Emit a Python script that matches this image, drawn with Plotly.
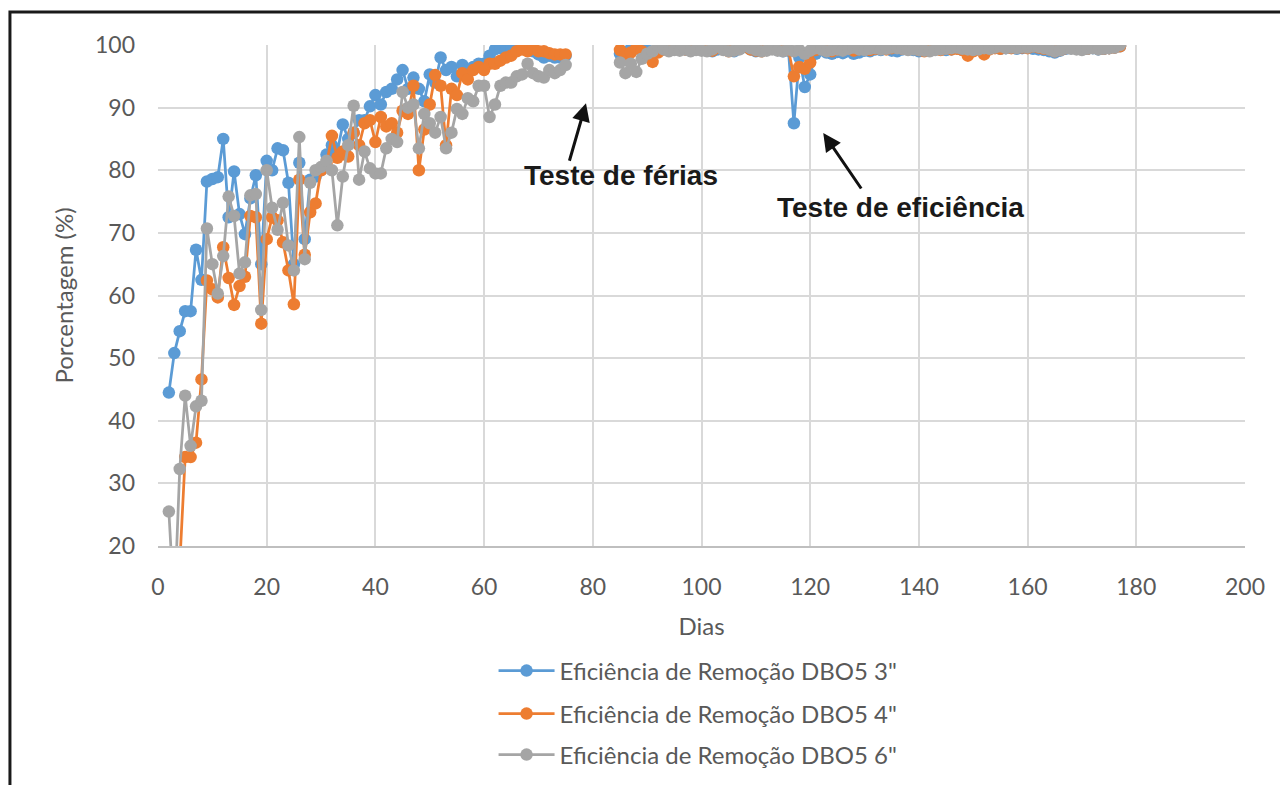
import plotly.graph_objects as go

# ---------------- data ----------------
days_p1 = list(range(2, 76))
days_p2 = list(range(85, 178))

dbo3_p1 = [44.5, 50.8, 54.3, 57.5, 57.5, 67.3, 62.5, 78.2, 78.6, 78.9, 85.0, 72.5, 79.8, 73.0,
           69.8, 75.5, 79.2, 65.0, 81.5, 80.0, 83.5, 83.2, 78.0, 65.0, 81.2, 69.0, 78.5, 79.0,
           80.0, 82.5, 84.0, 83.0, 87.3, 85.0, 86.0, 88.0, 88.0, 90.2, 92.0, 90.5, 92.5, 93.0,
           94.5, 96.0, 93.0, 94.8, 93.0, 91.0, 95.3, 94.0, 98.0, 96.0, 96.5, 95.0, 96.8, 96.0,
           96.5, 97.0, 97.0, 98.3, 99.3, 99.5, 99.0, 99.5, 99.5, 99.5, 99.3, 99.0, 98.5, 98.0,
           98.3, 98.0, 98.0, 98.3]
dbo4_p1 = [10.0, 8.0, 17.0, 34.2, 34.2, 36.5, 46.6, 62.4, 61.0, 59.7, 67.7, 62.8, 58.5, 61.5,
           63.0, 72.7, 72.5, 55.5, 69.0, 72.5, 72.0, 68.5, 64.0, 58.6, 78.5, 66.5, 73.3, 74.7,
           80.0, 81.0, 85.5, 82.0, 83.0, 82.2, 86.0, 84.0, 87.5, 88.0, 84.5, 88.5, 87.0, 87.5,
           86.0, 89.5, 89.0, 93.5, 80.0, 86.5, 90.5, 95.2, 93.5, 84.0, 93.0, 92.0, 95.5, 94.5,
           96.0, 96.5, 96.0, 97.0, 97.0, 97.5, 98.0, 98.3, 99.0, 99.3, 99.0, 99.5, 99.0, 99.0,
           98.7, 98.5, 98.5, 98.5]
dbo6_p1 = [25.5, 10.0, 32.3, 44.0, 36.0, 42.3, 43.2, 70.7, 65.0, 60.3, 66.3, 75.8, 72.7, 63.5,
           65.3, 76.0, 76.2, 57.7, 80.0, 74.0, 70.5, 74.8, 68.0, 64.0, 85.3, 65.8, 78.0, 80.0,
           80.5, 81.5, 80.0, 71.2, 79.0, 84.0, 90.3, 78.5, 83.0, 80.3, 79.5, 79.5, 83.5, 85.0,
           84.5, 92.5, 90.0, 90.5, 83.5, 89.0, 87.5, 86.0, 88.5, 83.5, 86.0, 89.8, 89.0, 91.5,
           91.0, 93.5, 93.5, 88.5, 90.5, 93.5, 94.0, 94.0, 95.0, 95.3, 97.0, 95.5, 95.0, 94.8,
           96.0, 95.5, 96.0, 96.8]

dbo3_p2 = [98.6, 98.9, 99.4, 99.7, 99.5, 99.2, 98.9, 99.3, 99.4, 99.2, 99.5, 99.6, 99.3, 99.1,
           99.4, 99.6, 99.2, 99.0, 99.3, 99.5, 99.2, 99.0, 99.4, 99.7, 99.3, 99.0, 99.2, 99.5,
           99.6, 99.2, 99.0, 99.1, 87.5, 98.0, 93.3, 95.3, 98.6, 99.2, 98.8, 98.6, 98.9, 98.7,
           99.0, 98.6, 98.8, 99.1, 99.0, 99.3, 99.2, 99.4, 99.1, 99.0, 99.3, 99.5, 99.2, 99.0,
           99.2, 99.1, 99.3, 99.4, 99.2, 99.3, 99.5, 99.2, 99.0, 99.3, 99.4, 99.2, 99.5, 99.6,
           99.4, 99.5, 99.6, 99.4, 99.5, 99.6, 99.4, 99.3, 99.2, 99.0, 98.8, 99.1, 99.4, 99.5,
           99.6, 99.8, 99.4, 99.5, 99.3, 99.4, 99.5, 99.6, 99.8]
dbo4_p2 = [99.2, 98.5, 98.8, 99.5, 99.0, 98.2, 97.3, 98.8, 99.3, 99.6, 100.0, 99.9, 99.3, 99.2,
           99.5, 99.9, 99.4, 99.1, 99.6, 99.3, 99.0, 99.2, 99.9, 99.8, 99.3, 99.1, 99.0, 99.4,
           99.9, 100.0, 99.3, 99.2, 95.0, 96.5, 96.2, 97.2, 99.2, 99.9, 99.4, 99.0, 99.3, 99.2,
           99.5, 99.1, 99.3, 99.5, 99.2, 99.4, 99.6, 99.3, 99.5, 99.7, 99.4, 99.3, 99.5, 99.2,
           99.0, 99.3, 99.4, 99.2, 99.5, 99.3, 99.4, 99.2, 98.3, 99.0, 99.6, 98.5, 99.3, 99.5,
           99.4, 99.6, 99.5, 99.7, 99.6, 99.5, 99.8, 99.6, 99.4, 99.3, 99.0, 99.2, 99.5, 99.6,
           99.8, 99.5, 99.4, 99.9, 99.5, 99.4, 99.5, 99.6, 99.8]
dbo6_p2 = [97.2, 95.5, 97.0, 95.7, 97.8, 98.6, 99.0, 99.9, 99.3, 99.0, 99.2, 99.1, 99.3, 99.0,
           99.2, 99.1, 99.0, 99.3, 99.9, 99.2, 99.0, 99.1, 99.3, 99.9, 99.5, 99.2, 99.0, 99.1,
           99.3, 99.1, 99.0, 99.3, 99.0, 99.2, 98.6, 99.1, 99.5, 99.3, 99.0, 99.2, 99.3, 99.1,
           99.4, 99.6, 99.3, 99.2, 99.4, 99.5, 99.3, 99.4, 99.6, 99.5, 99.4, 99.2, 99.3, 99.2,
           99.1, 99.0, 99.2, 99.3, 99.4, 99.5, 99.6, 99.4, 99.3, 99.2, 99.3, 99.5, 99.4, 99.6,
           99.8, 99.5, 99.6, 99.5, 99.7, 99.6, 99.8, 99.7, 99.5, 99.3, 99.0, 99.2, 99.5, 99.4,
           99.3, 99.2, 99.4, 99.5, 99.3, 99.4, 99.5, 99.6, 100.0]

series_names = ['Eficiência de Remoção DBO5 3"',
                'Eficiência de Remoção DBO5 4"',
                'Eficiência de Remoção DBO5 6"']
colors = ["#5B9BD5", "#ED7D31", "#A5A5A5"]

x_ticks = [0, 20, 40, 60, 80, 100, 120, 140, 160, 180, 200]
y_ticks = [20, 30, 40, 50, 60, 70, 80, 90, 100]

# ---------------- figure ----------------
FONT = "Lato, 'Open Sans', sans-serif"
TXT = "#595959"
LEGENDS = ["legend", "legend2", "legend3"]
LEG_Y = [-0.2495, -0.3353, -0.4172]

fig = go.Figure()
all_series = [(dbo3_p1, dbo3_p2), (dbo4_p1, dbo4_p2), (dbo6_p1, dbo6_p2)]
for (p1, p2), name, col, lg in zip(all_series, series_names, colors, LEGENDS):
    xs = days_p1 + [None] + days_p2
    ys = p1 + [None] + p2
    fig.add_trace(go.Scatter(
        x=xs, y=ys, name=name, mode="lines+markers",
        line=dict(color=col, width=2.75),
        marker=dict(color=col, size=12.5),
        connectgaps=False, legend=lg,
    ))

legend_common = dict(orientation="v", xanchor="left", yanchor="middle", x=0.3087,
                     font=dict(size=24, color=TXT, family=FONT), bgcolor="rgba(0,0,0,0)",
                     itemwidth=56)

fig.update_layout(
    width=1280, height=777,
    margin=dict(l=150, r=43, t=37, b=239, autoexpand=False),
    paper_bgcolor="white", plot_bgcolor="white",
    font=dict(family=FONT, size=23, color=TXT),
    showlegend=True,
    legend=dict(**legend_common, y=LEG_Y[0]),
    legend2=dict(**legend_common, y=LEG_Y[1]),
    legend3=dict(**legend_common, y=LEG_Y[2]),
)
fig.update_xaxes(
    range=[0, 200], tickvals=x_ticks, showgrid=True, gridcolor="#d9d9d9", gridwidth=2,
    zeroline=False, showline=True, linecolor="#bfbfbf", linewidth=2, ticks="",
    ticklabelstandoff=19, tickfont=dict(size=23, color=TXT),
    title=dict(text="Dias", font=dict(size=24, color=TXT), standoff=20),
)
fig.update_yaxes(
    range=[20, 100], tickvals=y_ticks, showgrid=True, gridcolor="#d9d9d9", gridwidth=2,
    zeroline=False, showline=False, ticks="", ticklabelstandoff=22,
    tickfont=dict(size=23, color=TXT),
    title=dict(text="Porcentagem (%)", font=dict(size=24, color=TXT), standoff=14),
)

# annotations with arrows
ANN_FONT = "Liberation Sans, Arial, sans-serif"
fig.add_annotation(x=78.75, y=90.7, xref="x", yref="y", text="", showarrow=True,
                   ax=-17, ay=59, arrowhead=2, arrowsize=1.2, arrowwidth=3, arrowcolor="#111111")
fig.add_annotation(x=85.2, y=79.1, xref="x", yref="y", text="<b>Teste de férias</b>",
                   showarrow=False, font=dict(family=ANN_FONT, size=28, color="#1a1a1a"))
fig.add_annotation(x=122.4, y=85.95, xref="x", yref="y", text="", showarrow=True,
                   ax=39, ay=57, arrowhead=2, arrowsize=1.2, arrowwidth=3, arrowcolor="#111111")
fig.add_annotation(x=136.7, y=74.0, xref="x", yref="y", text="<b>Teste de eficiência</b>",
                   showarrow=False, font=dict(family=ANN_FONT, size=28, color="#1a1a1a"))

# outer frame (visible at left and top of the reference)
fig.add_shape(type="rect", xref="paper", yref="paper",
              x0=-0.1362, x1=1.06, y0=-0.52, y1=1.0659,
              line=dict(color="#1a1a1a", width=3), fillcolor="rgba(0,0,0,0)", layer="above")

fig.write_html("out.html")
